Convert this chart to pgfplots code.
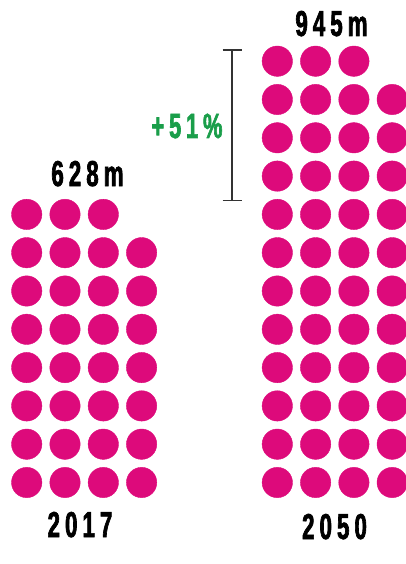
\documentclass[border=0pt]{standalone}
\usepackage{pgfplots}
\pgfplotsset{compat=1.18}
\usepackage{fontspec}
\setmainfont{Liberation Sans}
\newfontfamily\cond[FakeStretch=0.62,LetterSpace=14,FakeBold=1.8]{Liberation Sans Bold}
\definecolor{dotmag}{HTML}{DD0A7B}
\definecolor{upgreen}{HTML}{1A9E4A}
\begin{document}
\begin{tikzpicture}
\begin{axis}[
  scale only axis, width=406pt, height=564pt,
  xmin=0, xmax=406, ymin=0, ymax=564, y dir=reverse,
  hide axis, clip=false,
]
% 2017: 628m (31 dots)
\addplot[only marks, mark=*, color=dotmag, mark size=15.2pt, mark options={draw=none, fill=dotmag}] coordinates {
(26.7,482.5) (65.0,482.5) (103.3,482.5) (141.6,482.5)
(26.7,444.2) (65.0,444.2) (103.3,444.2) (141.6,444.2)
(26.7,405.9) (65.0,405.9) (103.3,405.9) (141.6,405.9)
(26.7,367.6) (65.0,367.6) (103.3,367.6) (141.6,367.6)
(26.7,329.3) (65.0,329.3) (103.3,329.3) (141.6,329.3)
(26.7,291.0) (65.0,291.0) (103.3,291.0) (141.6,291.0)
(26.7,252.7) (65.0,252.7) (103.3,252.7) (141.6,252.7)
(26.7,214.4) (65.0,214.4) (103.3,214.4)
};
% 2050: 945m (47 dots)
\addplot[only marks, mark=*, color=dotmag, mark size=15.2pt, mark options={draw=none, fill=dotmag}] coordinates {
(277.3,482.5) (315.6,482.5) (353.9,482.5) (392.2,482.5)
(277.3,444.2) (315.6,444.2) (353.9,444.2) (392.2,444.2)
(277.3,405.9) (315.6,405.9) (353.9,405.9) (392.2,405.9)
(277.3,367.6) (315.6,367.6) (353.9,367.6) (392.2,367.6)
(277.3,329.3) (315.6,329.3) (353.9,329.3) (392.2,329.3)
(277.3,291.0) (315.6,291.0) (353.9,291.0) (392.2,291.0)
(277.3,252.7) (315.6,252.7) (353.9,252.7) (392.2,252.7)
(277.3,214.4) (315.6,214.4) (353.9,214.4) (392.2,214.4)
(277.3,176.1) (315.6,176.1) (353.9,176.1) (392.2,176.1)
(277.3,137.8) (315.6,137.8) (353.9,137.8) (392.2,137.8)
(277.3,99.5) (315.6,99.5) (353.9,99.5) (392.2,99.5)
(277.3,61.2) (315.6,61.2) (353.9,61.2)
};
% bracket
\draw[black!80, line width=1.2pt] (axis cs:232,50) -- (axis cs:232,200.5);
\draw[black!80, line width=1.2pt] (axis cs:222.5,50) -- (axis cs:241.5,50);
\draw[black!80, line width=1.2pt] (axis cs:222.5,200.5) -- (axis cs:241.5,200.5);
% labels
\node[font=\cond\fontsize{36}{36}\selectfont, text=black, anchor=base] at (axis cs:87.5,186) {628m};
\node[font=\cond\fontsize{36}{36}\selectfont, text=black, anchor=base] at (axis cs:331.5,36) {945m};
\node[font=\cond\fontsize{36}{36}\selectfont, text=black, anchor=base] at (axis cs:80,537) {2017};
\node[font=\cond\fontsize{36}{36}\selectfont, text=black, anchor=base] at (axis cs:334.5,539) {2050};
\node[font=\cond\fontsize{35}{35}\selectfont, text=upgreen, anchor=base] at (axis cs:187,138) {+51\%};
\end{axis}
\pgfresetboundingbox
\useasboundingbox (0,0) rectangle (406pt,564pt);
\end{tikzpicture}
\end{document}
